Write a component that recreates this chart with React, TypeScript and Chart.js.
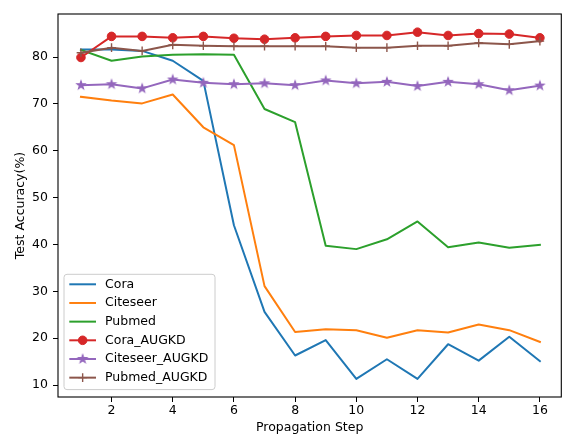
import React, { useEffect, useRef } from 'react';
import { Chart, registerables } from 'chart.js';

Chart.register(...registerables);

const steps = [1, 2, 3, 4, 5, 6, 7, 8, 9, 10, 11, 12, 13, 14, 15, 16];
const cora = [81.6, 81.6, 81.3, 79.2, 74.9, 44.1, 25.6, 16.3, 19.6, 11.3, 15.5, 11.3, 18.7, 15.2, 20.3, 15.1];
const citeseer = [71.5, 70.7, 70.1, 72.0, 65.0, 61.2, 31.1, 21.3, 21.9, 21.7, 20.1, 21.7, 21.2, 22.9, 21.7, 19.2];
const pubmed = [81.5, 79.2, 80.1, 80.5, 80.6, 80.5, 68.9, 66.1, 39.7, 39.0, 41.1, 44.9, 39.4, 40.4, 39.3, 39.9];
const coraAugkd = [79.9, 84.4, 84.4, 84.1, 84.4, 84.0, 83.8, 84.1, 84.4, 84.6, 84.6, 85.3, 84.6, 85.0, 84.9, 84.1];
const citeseerAugkd = [74.0, 74.2, 73.3, 75.2, 74.5, 74.2, 74.4, 74.0, 75.0, 74.4, 74.7, 73.8, 74.7, 74.2, 72.9, 73.9];
const pubmedAugkd = [80.9, 82.0, 81.3, 82.6, 82.4, 82.3, 82.3, 82.3, 82.3, 82.0, 82.0, 82.4, 82.4, 83.0, 82.7, 83.4];

const seriesNames = ['Cora', 'Citeseer', 'Pubmed', 'Cora_AUGKD', 'Citeseer_AUGKD', 'Pubmed_AUGKD'];
const seriesColors = ['#1f77b4', '#ff7f0e', '#2ca02c', '#d62728', '#9467bd', '#8c564b'];
const seriesMarkers = ['none', 'none', 'none', 'circle', 'star', 'plus'];
const seriesValues = [cora, citeseer, pubmed, coraAugkd, citeseerAugkd, pubmedAugkd];

const xTicks = [2, 4, 6, 8, 10, 12, 14, 16];
const yTicks = [10, 20, 30, 40, 50, 60, 70, 80];

const FONT = 'DejaVu Sans';
const FS = 12.5;

function drawStarPath(ctx: CanvasRenderingContext2D, cx: number, cy: number, ro: number, ri: number) {
  ctx.beginPath();
  for (let i = 0; i < 10; i++) {
    const r = i % 2 === 0 ? ro : ri;
    const a = -Math.PI / 2 + (i * Math.PI) / 5;
    const px = cx + r * Math.cos(a);
    const py = cy + r * Math.sin(a);
    if (i === 0) ctx.moveTo(px, py);
    else ctx.lineTo(px, py);
  }
  ctx.closePath();
}

function makeStar(color: string): HTMLCanvasElement {
  const c = document.createElement('canvas');
  c.width = 14;
  c.height = 14;
  const ctx = c.getContext('2d')!;
  drawStarPath(ctx, 7, 7, 4.4, 1.75);
  ctx.fillStyle = color;
  ctx.strokeStyle = color;
  ctx.lineWidth = 1.1;
  ctx.lineJoin = 'miter';
  ctx.fill();
  ctx.stroke();
  return c;
}

export default function App() {
  const ref = useRef<HTMLCanvasElement>(null);

  useEffect(() => {
    document.body.style.margin = '0';
    const canvas = ref.current!;
    const star = makeStar(seriesColors[4]);

    const datasets = seriesNames.map((name, i) => {
      const m = seriesMarkers[i];
      const color = seriesColors[i];
      return {
        label: name,
        data: steps.map((x, j) => ({ x, y: seriesValues[i][j] })),
        borderColor: color,
        backgroundColor: color,
        borderWidth: 2,
        borderJoinStyle: 'round' as const,
        borderCapStyle: 'square' as const,
        tension: 0,
        fill: false,
        pointRadius: m === 'none' ? 0 : 4.3,
        pointHoverRadius: m === 'none' ? 0 : 4.3,
        pointStyle: m === 'circle' ? 'circle' : m === 'star' ? star : 'cross',
        pointBorderWidth: m === 'plus' ? 1.4 : 1,
        pointBorderColor: color,
        pointBackgroundColor: color,
        order: seriesNames.length - i,
      };
    });

    const framePlugin = {
      id: 'frameAndLegend',
      afterDatasetsDraw(chart: any) {
        const { ctx, chartArea } = chart;
        ctx.save();
        ctx.strokeStyle = '#000';
        ctx.lineWidth = 1.1;
        ctx.strokeRect(chartArea.left, chartArea.top, chartArea.right - chartArea.left, chartArea.bottom - chartArea.top);
        ctx.restore();
      },
      afterDraw(chart: any) {
        const { ctx, chartArea } = chart;
        const bw = 151;
        const bh = 115.3;
        const bx = chartArea.left + 6;
        const by = chartArea.bottom - 7.4 - bh;
        ctx.save();
        // box
        const r = 3;
        ctx.beginPath();
        ctx.moveTo(bx + r, by);
        ctx.lineTo(bx + bw - r, by);
        ctx.quadraticCurveTo(bx + bw, by, bx + bw, by + r);
        ctx.lineTo(bx + bw, by + bh - r);
        ctx.quadraticCurveTo(bx + bw, by + bh, bx + bw - r, by + bh);
        ctx.lineTo(bx + r, by + bh);
        ctx.quadraticCurveTo(bx, by + bh, bx, by + bh - r);
        ctx.lineTo(bx, by + r);
        ctx.quadraticCurveTo(bx, by, bx + r, by);
        ctx.closePath();
        ctx.fillStyle = 'rgba(255,255,255,0.8)';
        ctx.fill();
        ctx.strokeStyle = '#cccccc';
        ctx.lineWidth = 1;
        ctx.stroke();

        ctx.font = `${FS}px "${FONT}"`;
        ctx.textBaseline = 'middle';
        ctx.textAlign = 'left';
        seriesNames.forEach((name, i) => {
          const y = by + 10 + i * 18.67;
          const x0 = bx + 5.3;
          const x1 = bx + 32;
          const color = seriesColors[i];
          ctx.strokeStyle = color;
          ctx.lineWidth = 2;
          ctx.lineCap = 'butt';
          ctx.beginPath();
          ctx.moveTo(x0, y);
          ctx.lineTo(x1, y);
          ctx.stroke();
          const cx = (x0 + x1) / 2;
          const m = seriesMarkers[i];
          if (m === 'circle') {
            ctx.beginPath();
            ctx.arc(cx, y, 4.3, 0, Math.PI * 2);
            ctx.fillStyle = color;
            ctx.fill();
            ctx.lineWidth = 1;
            ctx.stroke();
          } else if (m === 'star') {
            ctx.drawImage(star, cx - 7, y - 7);
          } else if (m === 'plus') {
            ctx.lineWidth = 1.4;
            ctx.beginPath();
            ctx.moveTo(cx - 4.3, y);
            ctx.lineTo(cx + 4.3, y);
            ctx.moveTo(cx, y - 4.3);
            ctx.lineTo(cx, y + 4.3);
            ctx.stroke();
          }
          ctx.fillStyle = '#000';
          ctx.fillText(name, bx + 41, y);
        });
        ctx.restore();
      },
    };

    const chart = new Chart(canvas, {
      type: 'line',
      data: { datasets: datasets as any },
      options: {
        responsive: false,
        animation: false,
        devicePixelRatio: 1,
        events: [],
        layout: { padding: { top: 14, right: 1, left: 0, bottom: 0 } },
        plugins: {
          legend: { display: false },
          tooltip: { enabled: false },
          title: { display: false },
        },
        scales: {
          x: {
            type: 'linear',
            min: 0.25,
            max: 16.7,
            afterBuildTicks: (scale: any) => {
              scale.ticks = xTicks.map((v) => ({ value: v }));
            },
            afterFit: (scale: any) => {
              scale.height = 38;
            },
            grid: {
              drawOnChartArea: false,
              drawTicks: true,
              tickLength: 5,
              color: '#000',
              lineWidth: 1,
            },
            border: { display: false },
            ticks: {
              color: '#000',
              padding: 1,
              maxRotation: 0,
              autoSkip: false,
              font: { family: FONT, size: FS },
            },
            title: {
              display: true,
              text: 'Propagation Step',
              color: '#000',
              padding: { top: 0, bottom: 0 },
              font: { family: FONT, size: FS },
            },
          },
          y: {
            type: 'linear',
            min: 7.44,
            max: 89.18,
            afterBuildTicks: (scale: any) => {
              scale.ticks = yTicks.map((v) => ({ value: v }));
            },
            afterFit: (scale: any) => {
              scale.width = 58;
            },
            grid: {
              drawOnChartArea: false,
              drawTicks: true,
              tickLength: 5,
              color: '#000',
              lineWidth: 1,
            },
            border: { display: false },
            ticks: {
              color: '#000',
              padding: 5,
              autoSkip: false,
              font: { family: FONT, size: FS },
            },
            title: {
              display: true,
              text: 'Test Accuracy(%)',
              color: '#000',
              padding: { top: 13, bottom: 0 },
              font: { family: FONT, size: FS },
            },
          },
        },
      },
      plugins: [framePlugin],
    });

    return () => chart.destroy();
  }, []);

  return (
    <div style={{ position: 'absolute', left: 0, top: 0, width: 567, height: 435 }}>
      <canvas ref={ref} width={567} height={435} style={{ display: 'block' }} />
    </div>
  );
}
